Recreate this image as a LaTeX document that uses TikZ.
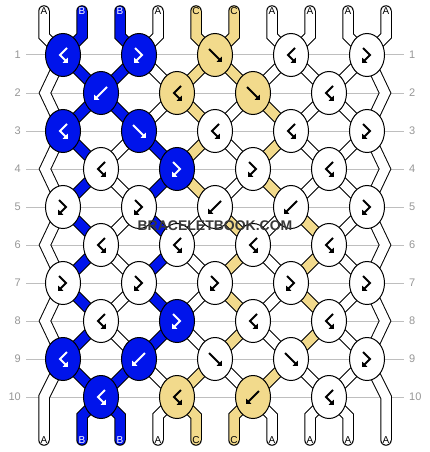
\documentclass[tikz,border=0pt]{standalone}
\usepackage{fontspec}
\setmainfont{Liberation Sans}
\usetikzlibrary{shapes.geometric, arrows.meta, backgrounds}

\definecolor{colA}{RGB}{255,255,255}
\definecolor{colB}{RGB}{0,20,235}
\definecolor{colC}{RGB}{242,218,140}
\definecolor{glyA}{RGB}{0,0,0}
\definecolor{glyB}{RGB}{255,255,255}
\definecolor{glyC}{RGB}{0,0,0}
\definecolor{labgrey}{RGB}{150,150,150}
\definecolor{linegrey}{RGB}{190,190,190}

\tikzstyle{knot} = [ellipse, draw=black, line width=1pt, minimum width=35pt, minimum height=43pt, inner sep=0pt]
\tikzstyle{strand} = [draw=black, line width=1pt, double distance=9.5pt]
\tikzstyle{tube} = [strand, line cap=round]
\tikzstyle{glyph} = [line width=2pt, ->, >={Triangle[length=4pt,width=7pt]}]
\tikzstyle{rowlabel} = [text=labgrey, font=\fontsize{11}{11}\selectfont, inner xsep=5pt, inner ysep=0pt]
\tikzstyle{gridline} = [draw=linegrey, line width=1pt]
\tikzstyle{strlabel} = [font=\fontsize{10}{10}\selectfont, inner sep=0pt]
\tikzstyle{watermark} = [text=black!78, font=\bfseries\fontsize{14}{14}\selectfont]

\tikzset{
  fwd/.pic={\draw[glyph] (-6,-6) -- (7,7);},
  bwd/.pic={\draw[glyph] (6,-6) -- (-7,7);},
  fb/.pic={\draw[glyph] (-4,-7) -- (3,0) -- (-5,8);},
  bf/.pic={\draw[glyph] (4,-7) -- (-3,0) -- (5,8);}
}

\begin{document}
\begin{tikzpicture}[x=1pt, y=-1pt]
  \useasboundingbox (0,0) rectangle (430,452);

  \foreach \r/\knots in {
      1/{bf/B,fb/B,fwd/C,bf/A,fb/A},
      2/{bwd/B,bf/C,fwd/C,bf/A},
      3/{bf/B,fwd/B,bf/A,bf/A,fb/A},
      4/{bf/A,fb/B,fb/A,bf/A},
      5/{fb/A,fb/A,bwd/A,bwd/A,fb/A},
      6/{bf/A,bf/A,bf/A,bf/A},
      7/{fb/A,fb/A,fb/A,fb/A,fb/A},
      8/{bf/A,fb/B,bf/A,bf/A},
      9/{bf/B,bwd/B,fwd/A,fwd/A,fb/A},
      10/{bf/B,bf/C,bwd/C,bf/A}}
    \foreach \t/\c [count=\k] in \knots {
      \pgfmathsetmacro\kx{isodd(\r) ? 63+76*(\k-1) : 101+76*(\k-1)}
      \node[knot, fill=col\c] (k\r-\k) at (\kx, {55+38*(\r-1)}) {};
      \pic[color=gly\c] at (k\r-\k) {\t};
    }

  \foreach \r in {1,...,10} {
    \node[rowlabel, anchor=east] (lrow\r) at (26, {55+38*(\r-1)}) {\r};
    \node[rowlabel, anchor=west] (rrow\r) at (404, {55+38*(\r-1)}) {\r};
  }
  \foreach \r in {2,4,6,8} {
    \coordinate (el\r) at (45, {55+38*(\r-1)});
    \coordinate (er\r) at (385, {55+38*(\r-1)});
  }
  \coordinate (el10) at (44, 397);
  \coordinate (er10) at (386, 397);

  \foreach \c [count=\p] in {A,B,B,A,C,C,A,A,A,A} {
    \node[strlabel, text=gly\c] (top\p) at ({44+38*(\p-1)}, 11) {\c};
    \node[strlabel, text=gly\c] (bot\p) at ({44+38*(\p-1)}, 440) {\c};
  }

  \begin{pgfonlayer}{background}
    \foreach \r in {1,...,10}
      \draw[gridline] (lrow\r.east) -- (rrow\r.west);

    \foreach \c [count=\p] in {A,B,B,A,C,C,A,A,A,A} {
      \pgfmathtruncatemacro\k{(\p+1)/2}
      \draw[tube, double=col\c] (top\p.center) -- ++(0,25) -- (k1-\k.center);
    }
    \foreach \c [count=\p from 2] in {B,B,A,C,C,A,A,A} {
      \pgfmathtruncatemacro\k{\p/2}
      \pgfmathsetmacro\dx{isodd(\p) ? 19 : -19}
      \draw[tube, double=col\c] (k10-\k.center) -- ++(\dx,19) -- (bot\p.center);
    }
    \draw[tube, double=colA] (k9-1.center) -- (el10) -- (bot1.center);
    \draw[tube, double=colA] (k9-5.center) -- (er10) -- (bot10.center);

    \foreach \r in {1,3,5,7} {
      \pgfmathtruncatemacro\ra{\r+1}
      \pgfmathtruncatemacro\rb{\r+2}
      \draw[strand, double=colA] (k\r-1.center) -- (el\ra) -- (k\rb-1.center);
      \draw[strand, double=colA] (k\r-5.center) -- (er\ra) -- (k\rb-5.center);
    }

    \foreach \r/\cols in {
        1/{B,B,A,C,C,A,A,A},
        2/{B,B,A,C,A,C,A,A},
        3/{B,A,B,C,A,C,A,A},
        4/{B,A,B,C,A,C,A,A},
        5/{B,A,B,A,C,A,C,A},
        6/{B,A,B,A,C,A,C,A},
        7/{B,A,B,A,C,A,C,A},
        8/{B,A,B,A,C,A,C,A},
        9/{B,B,A,C,A,C,A,A}}
      \foreach \c [count=\p from 2] in \cols {
        \pgfmathtruncatemacro\rr{\r+1}
        \pgfmathtruncatemacro\ka{isodd(\r) ? (\p+1)/2 : \p/2}
        \pgfmathtruncatemacro\kb{isodd(\rr) ? (\p+1)/2 : \p/2}
        \draw[strand, double=col\c] (k\r-\ka.center) -- (k\rr-\kb.center);
      }
  \end{pgfonlayer}

  \node[watermark] (wm) at (215,226) {BRACELETBOOK.COM};
\end{tikzpicture}
\end{document}
